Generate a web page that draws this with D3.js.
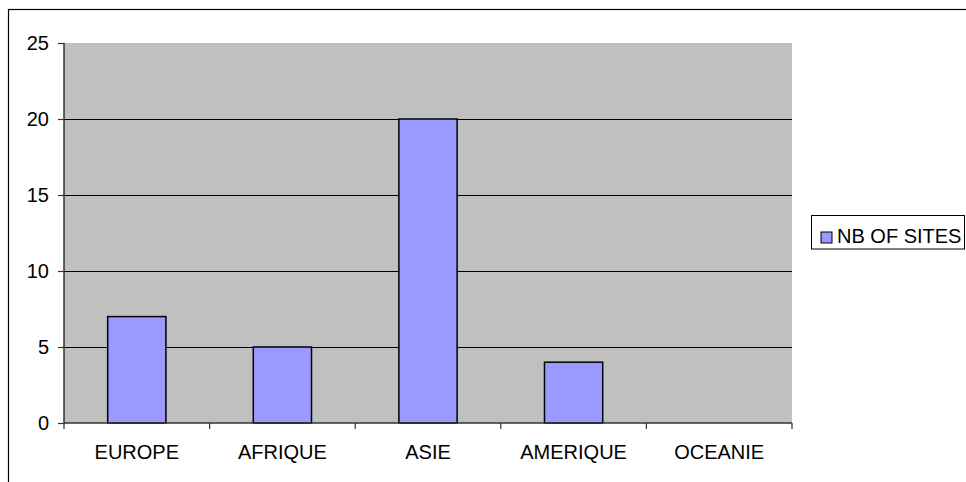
<!DOCTYPE html>
<html><head><meta charset="utf-8">
<script src="https://cdn.jsdelivr.net/npm/d3@7"></script>
<style>html,body{margin:0;padding:0;background:#fff;}svg{display:block;}</style>
</head><body>
<svg id="chart" width="966" height="482"></svg>
<script>
const categories = ["EUROPE", "AFRIQUE", "ASIE", "AMERIQUE", "OCEANIE"];
const values = [7, 5, 20, 4, 0];
const yTicks = [0, 5, 10, 15, 20, 25];
const seriesName = "NB OF SITES";

const svg = d3.select("#chart");
const font = "'Liberation Sans', Arial, sans-serif";
const fs = 20;

// outer chart border
svg.append("rect").attr("x", 8.5).attr("y", 9.5).attr("width", 1000).attr("height", 1000)
  .attr("fill", "#fff").attr("stroke", "#000").attr("stroke-width", 1.2);

const L = 64, R = 792, T = 43, B = 423;
const x = d3.scaleBand().domain(categories).range([L, R]).paddingInner(0).paddingOuter(0);
const y = d3.scaleLinear().domain([0, 25]).range([B, T]);

svg.append("rect").attr("x", L).attr("y", T).attr("width", R - L).attr("height", B - T).attr("fill", "#C0C0C0");

// gridlines
svg.append("g").selectAll("line").data(yTicks.filter(d => d > 0 && d < 25)).join("line")
  .attr("x1", L).attr("x2", R).attr("y1", d => Math.round(y(d)) + 0.5).attr("y2", d => Math.round(y(d)) + 0.5)
  .attr("stroke", "#000").attr("stroke-width", 1);

// bars
const bw = x.bandwidth() * 0.4;
svg.append("g").selectAll("rect").data(values).join("rect")
  .attr("x", (d, i) => x(categories[i]) + (x.bandwidth() - bw) / 2)
  .attr("y", d => y(d))
  .attr("width", bw)
  .attr("height", d => B - y(d))
  .attr("fill", "#9999FF")
  .attr("stroke", d => d > 0 ? "#000" : "none")
  .attr("stroke-width", 1.5);

// y axis
const yAxis = d3.axisLeft(y).tickValues(yTicks).tickSize(6).tickPadding(9).tickFormat(d3.format("d"));
const gy = svg.append("g").attr("transform", `translate(${L},0)`).call(yAxis);
gy.select(".domain").attr("stroke", "#333").attr("stroke-width", 1.5).attr("d", `M0,${T}V${B + 0.5}`);
gy.selectAll(".tick line").attr("stroke", "#333").attr("stroke-width", 1.2);
gy.selectAll(".tick text").attr("font-family", font).attr("font-size", fs).attr("fill", "#000");

// x axis
const xAxis = d3.axisBottom(x).tickSize(0).tickPadding(22);
const gx = svg.append("g").attr("transform", `translate(0,${B})`).call(xAxis);
gx.select(".domain").attr("stroke", "#333").attr("stroke-width", 1.5).attr("d", `M${L},0H${R}`);
gx.selectAll(".tick text").attr("font-family", font).attr("font-size", fs).attr("fill", "#000");
// category separator ticks
const sepX = categories.map(c => x(c)).concat([R]);
svg.append("g").selectAll("line").data(sepX).join("line")
  .attr("x1", d => d).attr("x2", d => d).attr("y1", B).attr("y2", B + 6)
  .attr("stroke", "#333").attr("stroke-width", 1.2);

// legend
const lg = svg.append("g");
lg.append("rect").attr("x", 811.5).attr("y", 215.5).attr("width", 153).attr("height", 33.5)
  .attr("fill", "#fff").attr("stroke", "#000").attr("stroke-width", 1);
lg.append("rect").attr("x", 821).attr("y", 232).attr("width", 11).attr("height", 11)
  .attr("fill", "#9999FF").attr("stroke", "#000").attr("stroke-width", 1);
lg.append("text").attr("x", 837).attr("y", 243).attr("font-family", font).attr("font-size", fs)
  .attr("fill", "#000").text(seriesName);
</script>
</body></html>
